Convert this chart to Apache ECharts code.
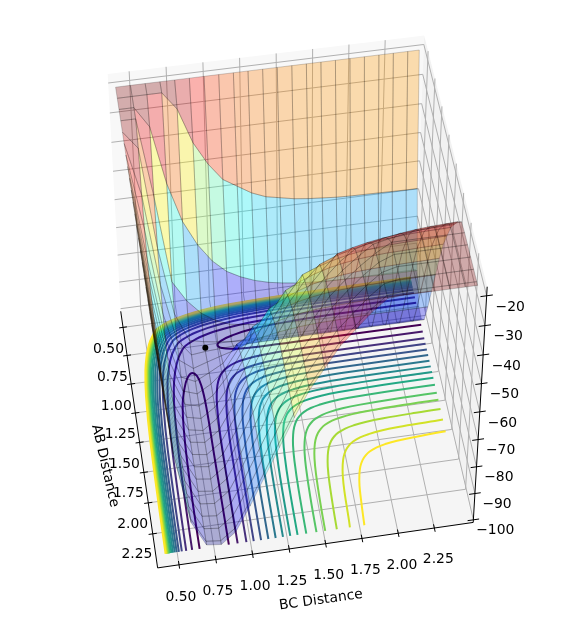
<!DOCTYPE html>
<html><head><meta charset="utf-8">
<style>html,body{margin:0;padding:0;background:#fff}#c{width:568px;height:620px}</style>
<script src="https://cdn.jsdelivr.net/npm/echarts@6/dist/echarts.min.js"></script>
</head><body><div id="c"></div>
<script>
// ---- data ----
const abNodes = [0.4,0.5,0.6,0.7,0.8,0.9,1.0,1.1,1.2,1.3,1.4,1.5,1.6,1.7,1.8,1.9,2.0,2.1,2.2,2.3,2.4,2.43];
const bcNodes = [0.4,0.5,0.6,0.7,0.8,0.9,1.0,1.1,1.2,1.3,1.4,1.5,1.6,1.7,1.8,1.9,2.0,2.1,2.2,2.3,2.4,2.48];
// energy, upper triangle (AB row, BC >= AB); the map is symmetric in AB and BC
const energyRows = [
 [120,85,60,42,30,20,12,6,2,-2,-5,-8,-10,-12,-13,-14,-15,-16,-16,-17,-17,-18],
 [51,15,-9,-26,-38,-46,-52,-55,-58,-60,-61,-62,-62.6,-63,-63.4,-63.6,-63.7,-63.8,-63.9,-64,-64],
 [-27,-47,-61,-70,-76.5,-81,-83.7,-85.7,-87.1,-88,-88.7,-89.1,-89.4,-89.6,-89.7,-89.8,-89.9,-90,-90,-90],
 [-78,-85.7,-91,-94.4,-96.5,-97.4,-98,-98.5,-98.8,-99,-99.1,-99.2,-99.3,-99.3,-99.4,-99.4,-99.4,-99.4,-99.4],
 [-96.3,-97.5,-98.3,-98.9,-99.2,-99.4,-99.7,-99.8,-99.8,-99.9,-99.9,-100,-100,-100,-100,-100,-100,-100],
 [-96.9,-96.6,-96.3,-96.2,-96.1,-96.1,-96,-96,-96,-96,-96,-96,-96,-96,-96,-96,-96],
 [-95,-93.5,-91.5,-90,-89,-88.3,-87.8,-87.5,-87.4,-87.2,-87.1,-87,-87,-87,-87,-87],
 [-87,-84.2,-82,-80.3,-79.2,-78.4,-77.9,-77.6,-77.4,-77.25,-77.15,-77.1,-77,-77,-77],
 [-77,-74.2,-72,-70.3,-69.2,-68.4,-67.9,-67.6,-67.4,-67.25,-67.15,-67.1,-67,-67],
 [-67,-64.2,-62,-60.3,-59.2,-58.4,-57.9,-57.6,-57.4,-57.25,-57.15,-57.1,-57],
 [-57,-54.5,-52.5,-51,-50,-49.3,-48.8,-48.5,-48.4,-48.2,-48.1,-48],
 [-48,-46,-44.5,-43.3,-42.5,-42,-41.6,-41.4,-41.3,-41.2,-41.1],
 [-41,-39,-37.5,-36.3,-35.5,-35,-34.6,-34.4,-34.3,-34.2],
 [-34,-32.6,-31.5,-30.7,-30.1,-29.7,-29.5,-29.3,-29.2],
 [-29,-27.6,-26.5,-25.7,-25.1,-24.7,-24.5,-24.3],
 [-24,-22.9,-22,-21.3,-20.9,-20.6,-20.4],
 [-20,-19.2,-18.5,-18,-17.7,-17.4],
 [-17,-16.2,-15.5,-15,-14.7],
 [-14,-13.2,-12.5,-12],
 [-11,-10.4,-9.8],
 [-9,-8.4],
 [-8]
];
const contourLoop = [[.651,2.47],[.655,1.9],[.668,1.5],[.69,1.25],[.72,1.12],[.75,1.04],[.785,1.0],[.82,1.03],[.84,1.12],[.85,1.3],[.85,1.7],[.85,2.47]];
const outerBranches = [
 [[1.015,1.015],[.988,1.048],[.962,1.102],[.945,1.165],[.931,1.251],[.921,1.38],[.913,1.613],[.91,2.47]],
 [[1.075,1.075],[1.048,1.108],[1.022,1.162],[1.005,1.225],[.991,1.311],[.981,1.44],[.973,1.673],[.97,2.47]],
 [[1.125,1.125],[1.098,1.158],[1.072,1.212],[1.055,1.275],[1.041,1.361],[1.031,1.49],[1.023,1.723],[1.02,2.47]],
 [[1.175,1.175],[1.148,1.208],[1.122,1.262],[1.105,1.325],[1.091,1.411],[1.081,1.54],[1.073,1.773],[1.07,2.47]],
 [[1.225,1.225],[1.198,1.258],[1.172,1.312],[1.155,1.375],[1.141,1.461],[1.131,1.59],[1.123,1.823],[1.12,2.47]],
 [[1.275,1.275],[1.248,1.308],[1.222,1.362],[1.205,1.425],[1.191,1.511],[1.181,1.64],[1.173,1.873],[1.17,2.47]],
 [[1.325,1.325],[1.298,1.358],[1.272,1.412],[1.255,1.475],[1.241,1.561],[1.231,1.69],[1.223,1.923],[1.22,2.47]],
 [[1.375,1.375],[1.348,1.408],[1.322,1.462],[1.305,1.525],[1.291,1.611],[1.281,1.74],[1.273,1.973],[1.27,2.47]],
 [[1.425,1.425],[1.398,1.458],[1.372,1.512],[1.355,1.575],[1.341,1.661],[1.331,1.79],[1.323,2.023],[1.32,2.47]],
 [[1.485,1.485],[1.458,1.518],[1.432,1.572],[1.415,1.635],[1.401,1.721],[1.391,1.85],[1.383,2.083],[1.38,2.47]],
 [[1.555,1.555],[1.528,1.588],[1.502,1.642],[1.485,1.705],[1.471,1.791],[1.461,1.92],[1.453,2.153],[1.45,2.47]],
 [[1.615,1.615],[1.588,1.648],[1.562,1.702],[1.545,1.765],[1.531,1.851],[1.521,1.98],[1.513,2.213],[1.51,2.47]],
 [[1.695,1.695],[1.668,1.728],[1.642,1.782],[1.625,1.845],[1.611,1.931],[1.601,2.06],[1.593,2.293],[1.59,2.47]],
 [[1.785,1.785],[1.758,1.818],[1.732,1.872],[1.715,1.935],[1.701,2.021],[1.691,2.15],[1.683,2.383],[1.68,2.47]],
 [[1.885,1.885],[1.858,1.918],[1.832,1.972],[1.815,2.035],[1.801,2.121],[1.791,2.25],[1.78,2.47]]
];
const innerBranches = [
 [[.765,.765],[.74,.8],[.712,.852],[.69,.91],[.668,.988],[.646,1.106],[.624,1.324],[.608,1.708],[.6,2.47]],
 [[.725,.725],[.70,.76],[.672,.812],[.65,.87],[.628,.948],[.606,1.066],[.584,1.284],[.568,1.668],[.56,2.47]],
 [[.695,.695],[.67,.73],[.642,.782],[.62,.84],[.598,.918],[.576,1.036],[.554,1.254],[.538,1.638],[.53,2.47]],
 [[.675,.675],[.65,.71],[.622,.762],[.6,.82],[.578,.898],[.556,1.016],[.534,1.234],[.518,1.618],[.51,2.47]],
 [[.66,.66],[.635,.695],[.607,.747],[.585,.805],[.563,.883],[.541,1.001],[.519,1.219],[.503,1.603],[.495,2.47]],
 [[.647,.647],[.622,.682],[.594,.734],[.572,.792],[.55,.87],[.528,.988],[.506,1.206],[.49,1.59],[.482,2.47]],
 [[.635,.635],[.61,.67],[.582,.722],[.56,.78],[.538,.858],[.516,.976],[.494,1.194],[.478,1.578],[.47,2.47]],
 [[.625,.625],[.6,.66],[.572,.712],[.55,.77],[.528,.848],[.506,.966],[.484,1.184],[.468,1.568],[.46,2.47]],
 [[.615,.615],[.59,.65],[.562,.702],[.54,.76],[.518,.838],[.496,.956],[.474,1.174],[.458,1.558],[.45,2.47]],
 [[.61,.61],[.585,.645],[.557,.697],[.535,.755],[.513,.833],[.491,.951],[.469,1.169],[.453,1.553],[.445,2.47]],
 [[.605,.605],[.58,.64],[.552,.692],[.53,.75],[.508,.828],[.486,.946],[.464,1.164],[.448,1.548],[.44,2.47]],
 [[.6,.6],[.575,.635],[.547,.687],[.525,.745],[.503,.823],[.481,.941],[.459,1.159],[.443,1.543],[.435,2.47]],
 [[.595,.595],[.57,.63],[.542,.682],[.52,.74],[.498,.818],[.476,.936],[.454,1.154],[.438,1.538],[.43,2.47]],
 [[.59,.59],[.565,.625],[.537,.677],[.515,.735],[.493,.813],[.471,.931],[.449,1.149],[.433,1.533],[.425,2.47]],
 [[.585,.585],[.56,.62],[.532,.672],[.51,.73],[.488,.808],[.466,.926],[.444,1.144],[.428,1.528],[.42,2.47]]
];
const abContourEnd = 2.44;
const surfaceClip = -20, surfaceMin = -100;
const distanceTicks = [0.5,0.75,1.0,1.25,1.5,1.75,2.0,2.25];
const distanceTickLabels = ['0.50','0.75','1.00','1.25','1.50','1.75','2.00','2.25'];
const energyTicks = [-20,-30,-40,-50,-60,-70,-80,-90,-100];
const saddlePoint = [0.9,0.9,-95.5];

// ---- axis box and camera fitted to the box corners ----
const ABmin=0.355, ABmax=2.52, BCmin=0.355, BCmax=2.52, Zmin=-101, Zmax=-17;
const boxCorners = [ // u(AB) v(BC) w(z) -> page x,y
 [0,0,0,121,313],[1,0,0,158,567],[1,1,0,473,524],[0,1,0,415,270],
 [0,0,1,107,73],[0,1,1,425,37],[1,1,1,487,286]
];
function fitCamera(pts){
  const A=[],b=[],S=500;
  pts.forEach(([u,v,w,x0,y0])=>{const x=x0/S,y=y0/S;
    A.push([u,v,w,1,0,0,0,0,-x*u,-x*v,-x*w]);b.push(x);
    A.push([0,0,0,0,u,v,w,1,-y*u,-y*v,-y*w]);b.push(y);});
  const n=11,M=[];
  for(let i=0;i<n;i++){const r=new Array(n+1).fill(0);
    for(let k=0;k<A.length;k++){for(let j=0;j<n;j++)r[j]+=A[k][i]*A[k][j];r[n]+=A[k][i]*b[k];}
    M.push(r);}
  for(let c=0;c<n;c++){let p=c;for(let r=c+1;r<n;r++)if(Math.abs(M[r][c])>Math.abs(M[p][c]))p=r;
    [M[c],M[p]]=[M[p],M[c]];
    for(let r=0;r<n;r++){if(r===c)continue;const f=M[r][c]/M[c][c];for(let j=c;j<=n;j++)M[r][j]-=f*M[c][j];}}
  const s=M.map((r,i)=>r[n]/r[i]);
  return {s,S};
}
const cam=fitCamera(boxCorners);
function project(ab,bc,z){
  const u=(ab-ABmin)/(ABmax-ABmin),v=(bc-BCmin)/(BCmax-BCmin),w=(z-Zmin)/(Zmax-Zmin),s=cam.s;
  const h=s[8]*u+s[9]*v+s[10]*w+1;
  return {x:cam.S*(s[0]*u+s[1]*v+s[2]*w+s[3])/h,y:cam.S*(s[4]*u+s[5]*v+s[6]*w+s[7])/h,d:h};
}
const P=(a,b,z)=>{const p=project(a,b,z);return [p.x,p.y];};

// ---- full energy table ----
const N=abNodes.length;
const E=[];for(let i=0;i<N;i++)E.push(new Array(N));
energyRows.forEach((row,i)=>row.forEach((v,k)=>{E[i][i+k]=v;E[i+k][i]=v;}));

// ---- colours ----
function jet(t){t=Math.max(0,Math.min(1,t));
  const cl=x=>Math.max(0,Math.min(1,x));
  const r=cl(1.5-Math.abs(4*t-3)),g=cl(1.5-Math.abs(4*t-2)),b=cl(1.5-Math.abs(4*t-1));
  return [r*255|0,g*255|0,b*255|0];}
const viridisStops=[[68,1,84],[72,36,117],[65,68,135],[53,95,141],[42,120,142],[33,145,140],[34,168,132],[68,191,112],[122,209,81],[189,223,38],[253,231,37]];
function viridis(t){const x=t*10,i=Math.min(9,Math.floor(x)),f=x-i,a=viridisStops[i],b=viridisStops[i+1];
  return 'rgb('+a.map((c,k)=>Math.round(c+(b[k]-c)*f)).join(',')+')';}

// ---- surface cells ----
const cells=[];
for(let i=0;i<N-1;i++)for(let j=0;j<N-1;j++){
  const q=[[i,j],[i+1,j],[i+1,j+1],[i,j+1]].map(([a,b])=>[abNodes[a],bcNodes[b],Math.min(E[a][b],surfaceClip)]);
  const m=q.reduce((s,p)=>s+p[2],0)/4;
  const d=q.reduce((s,p)=>s+project(p[0],p[1],p[2]).d,0)/4;
  const c=jet((m-surfaceMin)/(surfaceClip-surfaceMin));
  cells.push({pts:q.map(p=>P(p[0],p[1],p[2])),fill:`rgba(${c[0]},${c[1]},${c[2]},0.3)`,d});
}
cells.sort((a,b)=>b.d-a.d);

// ---- contours on the floor ----
const floorZ=-100;
const toFloor=([a,b])=>P(Math.min(a,abContourEnd),b,floorZ);
const mirrored=l=>l.map(([a,b])=>[b,a]);
const contourLines=[];
const levelCount=outerBranches.length+1;
contourLines.push({pts:contourLoop.map(toFloor),stroke:viridis(0)});
contourLines.push({pts:mirrored(contourLoop).map(toFloor),stroke:viridis(0)});
[outerBranches,innerBranches].forEach(set=>set.forEach((br,k)=>{
  const full=mirrored(br).reverse().concat(br.slice(1));
  contourLines.push({pts:full.map(toFloor),stroke:viridis((k+1)/(levelCount-1))});
}));

// ---- box, grid, ticks, labels ----
const panes=[
 {pts:[P(ABmin,BCmin,Zmin),P(ABmin,BCmax,Zmin),P(ABmin,BCmax,Zmax),P(ABmin,BCmin,Zmax)],fill:'#f8f8f8'},
 {pts:[P(ABmin,BCmax,Zmin),P(ABmax,BCmax,Zmin),P(ABmax,BCmax,Zmax),P(ABmin,BCmax,Zmax)],fill:'#f2f2f2'},
 {pts:[P(ABmin,BCmin,Zmin),P(ABmax,BCmin,Zmin),P(ABmax,BCmax,Zmin),P(ABmin,BCmax,Zmin)],fill:'#f5f5f5'}
];
const gridLines=[];
distanceTicks.forEach(t=>{
  gridLines.push([P(t,BCmin,Zmin),P(t,BCmax,Zmin),P(t,BCmax,Zmax)]);
  gridLines.push([P(ABmax,t,Zmin),P(ABmin,t,Zmin),P(ABmin,t,Zmax)]);
});
energyTicks.forEach(z=>gridLines.push([P(ABmin,BCmin,z),P(ABmin,BCmax,z),P(ABmax,BCmax,z)]));
const axisLines=[
 [P(ABmin,BCmin,Zmin),P(ABmax,BCmin,Zmin)],
 [P(ABmax,BCmin,Zmin),P(ABmax,BCmax,Zmin)],
 [P(ABmax,BCmax,Zmin),P(ABmax,BCmax,Zmax)]
];
distanceTicks.forEach(t=>{
  axisLines.push([P(t,BCmin-0.028,Zmin),P(t,BCmin+0.028,Zmin)]);
  axisLines.push([P(ABmax-0.03,t,Zmin),P(ABmax+0.03,t,Zmin)]);
});
energyTicks.forEach(z=>axisLines.push([P(ABmax,BCmax-0.04,z),P(ABmax,BCmax+0.04,z)]));
const texts=[];
distanceTicks.forEach((t,i)=>{
  texts.push({p:P(t+0.19-0.02*t,BCmin-0.125,Zmin),s:distanceTickLabels[i]});
  texts.push({p:P(ABmax+0.25,t-0.02,Zmin),s:distanceTickLabels[i]});
});
energyTicks.forEach(z=>texts.push({p:P(ABmax+0.11,BCmax+0.13,z),s:'\u2212'+Math.abs(z)}));
texts.push({p:[105,466],s:'AB Distance',r:-77*Math.PI/180});
texts.push({p:[321,600],s:'BC Distance',r:8*Math.PI/180});

function polySeries(list,z,stroke,lw){return {type:'custom',coordinateSystem:'cartesian2d',silent:true,animation:false,clip:false,
  progressive:0,z,data:list.map((_,i)=>[i,0]),encode:{x:0,y:1},
  renderItem:(params,api)=>{const o=list[params.dataIndex];
    return {type:'polygon',shape:{points:o.pts.map(p=>api.coord(p))},
      style:{fill:o.fill,stroke:stroke,lineWidth:lw}};}};}
function lineSeries(list,z,styleOf,smooth){return {type:'custom',coordinateSystem:'cartesian2d',silent:true,animation:false,clip:false,
  progressive:0,z,data:list.map((_,i)=>[i,0]),encode:{x:0,y:1},
  renderItem:(params,api)=>{const o=list[params.dataIndex];
    return {type:'polyline',shape:{points:(o.pts||o).map(p=>api.coord(p)),smooth:smooth||0},style:Object.assign({fill:null,lineJoin:'round'},styleOf(o))};}};}

const chart=echarts.init(document.getElementById('c'),null,{renderer:'canvas'});
chart.setOption({
  animation:false,backgroundColor:'#fff',
  grid:{left:0,right:0,top:0,bottom:0},
  xAxis:{type:'value',min:0,max:568,show:false},
  yAxis:{type:'value',min:0,max:620,inverse:true,show:false},
  series:[
    polySeries(panes,1,null,0),
    lineSeries(gridLines,2,()=>({stroke:'#b0b0b0',lineWidth:1})),
    lineSeries(axisLines,3,()=>({stroke:'#000',lineWidth:1})),
    lineSeries(contourLines,4,o=>({stroke:o.stroke,lineWidth:2}),0.4),
    polySeries(cells,5,'rgba(0,0,0,0.3)',0.6),
    {type:'scatter',z:6,silent:true,animation:false,symbolSize:6,itemStyle:{color:'#000',opacity:1},
      data:[P(saddlePoint[0],saddlePoint[1],saddlePoint[2])]},
    {type:'custom',coordinateSystem:'cartesian2d',silent:true,animation:false,clip:false,progressive:0,z:7,
      data:texts.map((_,i)=>[i,0]),encode:{x:0,y:1},
      renderItem:(params,api)=>{const o=texts[params.dataIndex],c=api.coord(o.p);
        return {type:'text',x:c[0],y:c[1],rotation:o.r||0,
          style:{text:o.s,x:0,y:0,align:'center',verticalAlign:'middle',fill:'#000',font:'13.9px "DejaVu Sans"'}};}}
  ]
});
</script></body></html>
